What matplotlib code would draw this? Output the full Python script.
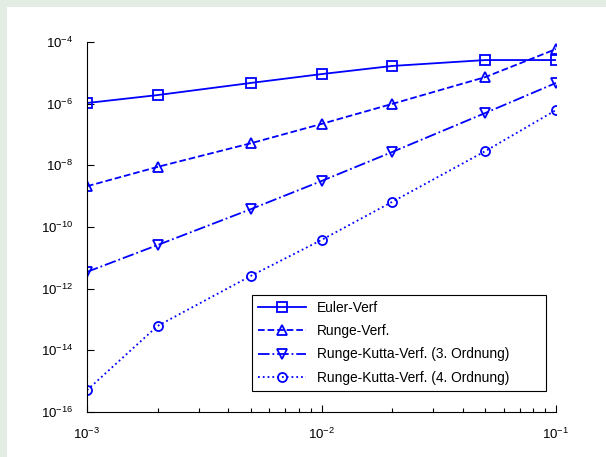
import matplotlib
matplotlib.use('Agg')
import matplotlib.pyplot as plt
from matplotlib.patches import Rectangle

# Step sizes and errors of the different methods
h = [0.001, 0.002, 0.005, 0.01, 0.02, 0.05, 0.1]
euler = [1.05e-6, 1.9e-6, 4.7e-6, 9.1e-6, 1.67e-5, 2.6e-5, 2.6e-5]
runge = [2.1e-9, 8.9e-9, 5.2e-8, 2.2e-7, 9.8e-7, 7.3e-6, 5.9e-5]
rk3 = [3.5e-12, 2.6e-11, 3.8e-10, 3.1e-9, 2.7e-8, 5.0e-7, 4.7e-6]
rk4 = [5.1e-16, 6.2e-14, 2.6e-12, 3.8e-11, 6.5e-10, 2.9e-8, 6.2e-7]
labels = ['Euler-Verf', 'Runge-Verf.', 'Runge-Kutta-Verf. (3. Ordnung)',
          'Runge-Kutta-Verf. (4. Ordnung)']
y_ticks = [1e-16, 1e-14, 1e-12, 1e-10, 1e-8, 1e-6, 1e-4]

plt.rcParams['font.family'] = ['Liberation Sans', 'DejaVu Sans']
plt.rcParams['mathtext.fontset'] = 'custom'
plt.rcParams['mathtext.rm'] = 'Liberation Sans'
plt.rcParams['font.size'] = 9.5
plt.rcParams['axes.unicode_minus'] = False

fig = plt.figure(figsize=(6.06, 4.57), dpi=100, facecolor='#e3ede4')
# white page with a thin green border at left and top
fig.patches.append(Rectangle((7 / 606, 0), 1, 450 / 457, transform=fig.transFigure,
                             facecolor='white', edgecolor='none', zorder=-10))

ax = fig.add_axes([87 / 606, 45 / 457, 469 / 606, 370 / 457])
blue = '#0000ff'
style = dict(color=blue, lw=1.3, ms=6.5, mew=1.3, mfc='none')
ax.plot(h, euler, '-s', label=labels[0], **style)
ax.plot(h, runge, '--^', label=labels[1], **style)
ax.plot(h, rk3, '-.v', label=labels[2], **style)
ax.plot(h, rk4, ':o', label=labels[3], **style)

ax.set_xscale('log')
ax.set_yscale('log')
ax.set_xlim(1e-3, 1e-1)
ax.set_ylim(1e-16, 1e-4)
ax.set_yticks(y_ticks)
ax.yaxis.set_minor_locator(matplotlib.ticker.NullLocator())

ax.spines['top'].set_visible(False)
ax.spines['right'].set_visible(False)
for s in ['left', 'bottom']:
    ax.spines[s].set_linewidth(0.8)
ax.tick_params(which='both', direction='in', width=0.8, colors='black')
ax.tick_params(which='major', length=5)
ax.tick_params(which='minor', length=3)
ax.tick_params(axis='x', pad=11)
ax.tick_params(axis='y', pad=10)

# legend box spans x 252..546 px, y 295..391 px of the picture
x0 = (252 - 87) / 469
y0 = (412 - 391) / 370
leg = ax.legend(loc='lower left', bbox_to_anchor=(x0, y0, (546 - 252) / 469, 0.2),
                mode='expand', borderaxespad=0, fontsize=9.9,
                fancybox=False, edgecolor='black', framealpha=1, handlelength=3.5,
                labelspacing=0.68, handletextpad=0.75, borderpad=0.45)
leg.get_frame().set_linewidth(0.8)

plt.savefig('out.png', dpi=100)
